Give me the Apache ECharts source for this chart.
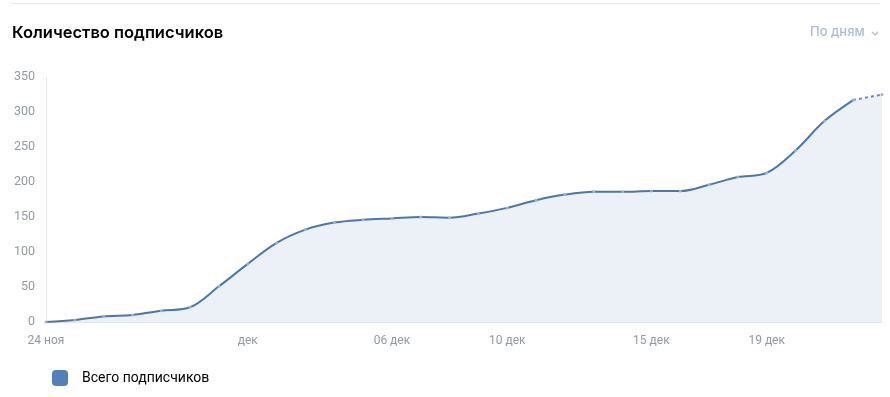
<!DOCTYPE html>
<html>
<head>
<meta charset="utf-8">
<script src="https://cdn.jsdelivr.net/npm/echarts@6/dist/echarts.min.js"></script>
<style>
html,body{margin:0;padding:0;background:#fff;}
#c{width:890px;height:397px;}
</style>
</head>
<body>
<div id="c"></div>
<script>
var categories = ['24 ноя','25 ноя','26 ноя','27 ноя','28 ноя','29 ноя','30 ноя','01 дек','02 дек','03 дек','04 дек','05 дек','06 дек','07 дек','08 дек','09 дек','10 дек','11 дек','12 дек','13 дек','14 дек','15 дек','16 дек','17 дек','18 дек','19 дек','20 дек','21 дек','22 дек','23 дек'];
var subscribers = [0,3,8,10,16,21,51,83,113,132,142,146,148,150,149,155,163,174,182,186,186,187,187,196,207,213,245,287,317,325];
var tickIndex = [0,7,12,16,21,25];
var tickLabels = ['24 ноя','дек','06 дек','10 дек','15 дек','19 дек'];
var yTicks = [0,50,100,150,200,250,300,350];
var seriesName = 'Всего подписчиков';
var lastSolid = 28;

var solidData = subscribers.map(function(v,i){ return i <= lastSolid ? v : null; });
var dashData = subscribers.map(function(v,i){ return i >= lastSolid ? v : null; });

var chart = echarts.init(document.getElementById('c'));
var font = 'Roboto, "Noto Sans", sans-serif';
chart.setOption({
  animation:false,
  title:{
    text:'Количество подписчиков',
    left:12, top:25, padding:0,
    textStyle:{fontFamily:'Inter, Roboto, sans-serif',fontSize:16.5,fontWeight:600,color:'#000'}
  },
  graphic:[
    {type:'line',shape:{x1:12,y1:3.5,x2:880,y2:3.5},style:{stroke:'#e7e8ec',lineWidth:1}},
    {type:'text',left:810,top:26,style:{text:'По дням',font:'500 13px Inter, Roboto, sans-serif',fill:'#aebccd'}},
    {type:'polyline',shape:{points:[[872,32],[875,35],[878,32]]},style:{stroke:'#aebccd',lineWidth:1.2,fill:null}}
  ],
  legend:{
    data:[seriesName],
    left:52, top:370, padding:0,
    itemWidth:16,itemHeight:16,
    icon:'roundRect',
    itemStyle:{color:'#5181b8'},
    textStyle:{fontFamily:font,fontSize:14,color:'#000',padding:[0,0,0,9]},
    selectedMode:false
  },
  grid:{left:46,right:8,top:77,bottom:75,containLabel:false},
  xAxis:{
    type:'category',
    data:categories,
    boundaryGap:false,
    axisLine:{lineStyle:{color:'#e3e6ea',width:1}},
    axisTick:{show:false},
    axisLabel:{
      interval:function(i){ return tickIndex.indexOf(i) >= 0; },
      formatter:function(v,i){ var k = tickIndex.indexOf(i); return k >= 0 ? tickLabels[k] : ''; },
      color:'#939aa3',fontFamily:font,fontSize:12,margin:13
    },
    splitLine:{show:false}
  },
  yAxis:{
    type:'value',
    min:yTicks[0],max:yTicks[yTicks.length-1],interval:yTicks[1]-yTicks[0],
    axisLine:{show:true,lineStyle:{color:'#e7e9ec',width:1}},
    axisTick:{show:false},
    splitLine:{show:false},
    axisLabel:{color:'#939aa3',fontFamily:font,fontSize:12.5,margin:11}
  },
  series:[
    {
      name:seriesName,type:'line',data:solidData,smooth:0.35,
      symbol:'circle',symbolSize:3,showSymbol:true,
      lineStyle:{color:'#4e76a6',width:2},
      itemStyle:{color:'#9fb4cf',borderWidth:0},
      areaStyle:{color:'#ecf1f8',opacity:1},
      z:3
    },
    {
      name:seriesName,type:'line',data:dashData,smooth:0.35,
      symbol:'circle',symbolSize:3,showSymbol:true,
      lineStyle:{color:'#6a8cb5',width:2,type:[3,3]},
      itemStyle:{color:'#9fb4cf',borderWidth:0},
      areaStyle:{color:'#ecf1f8',opacity:1},
      z:2
    }
  ]
});
</script>
</body>
</html>
